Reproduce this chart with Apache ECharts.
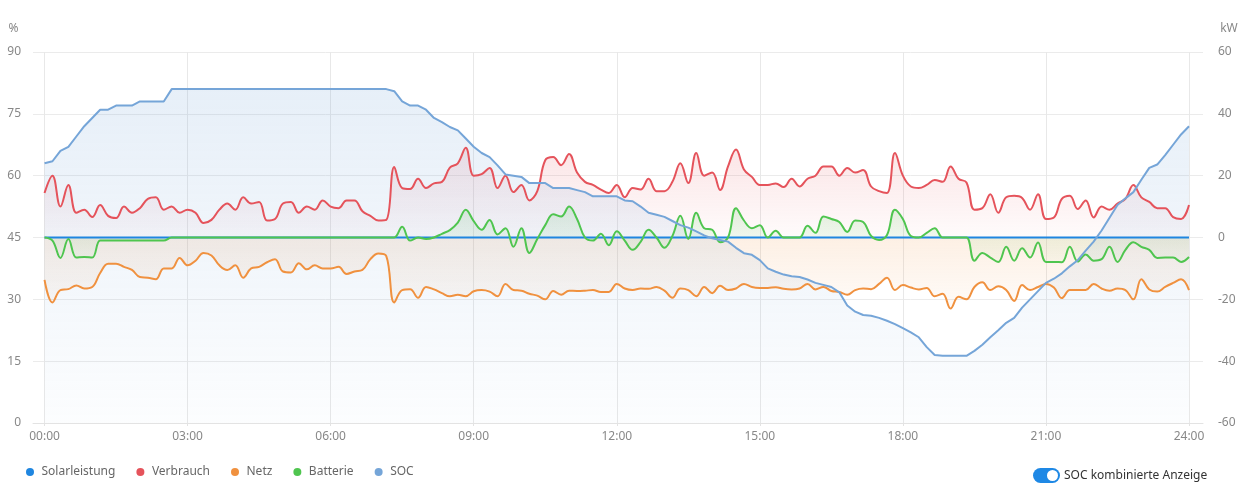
<!DOCTYPE html>
<html>
<head>
<meta charset="UTF-8">
<title>SOC Tagesverlauf</title>
<script src="https://cdn.jsdelivr.net/npm/echarts@6/dist/echarts.min.js"></script>
<style>
  html, body { margin: 0; padding: 0; background: #fff; }
  #main { width: 1241px; height: 485px; }
</style>
</head>
<body>
<div id="main"></div>
<script>
// Messwerte alle 10 Minuten, 00:00 .. 24:00
var stepMin = 10;
var xTicks = [0, 180, 360, 540, 720, 900, 1080, 1260, 1440];
var seriesNames = ['Solarleistung', 'Verbrauch', 'Netz', 'Batterie', 'SOC'];

// kW
var solar = [
  0,0,0,0,0,0,0,0,0,0, 0,0,0,0,0,0,0,0,0,0, 0,0,0,0,0,0,0,0,0,0,
  0,0,0,0,0,0,0,0,0,0, 0,0,0,0,0,0,0,0,0,0, 0,0,0,0,0,0,0,0,0,0,
  0,0,0,0,0,0,0,0,0,0, 0,0,0,0,0,0,0,0,0,0, 0,0,0,0,0,0,0,0,0,0,
  0,0,0,0,0,0,0,0,0,0, 0,0,0,0,0,0,0,0,0,0, 0,0,0,0,0,0,0,0,0,0,
  0,0,0,0,0,0,0,0,0,0, 0,0,0,0,0,0,0,0,0,0, 0,0,0,0,0
];
var verbrauch = [
  14.4,20,10,17,8,9,6.6,10.5,7,6.3,
  10,8,9.5,12.5,13,9,10,8,9,8,
  4.7,5.7,9,11,9,13,11,11.5,5.5,6,
  11,11.5,8,10,9,12,10,9.5,12,12,
  8.5,7,5.5,5.7,22.8,16,15.7,19,16,17.5,
  18,22.6,24,29,20,20.5,22.5,16,20,14.7,
  17,12,15,25,26,23.4,27,21,18,17,
  15.5,14.4,17,13,16,15.5,19,15,15,18,
  24,17.6,27.3,20,21,15.4,23,28.5,22,19.6,
  17,17,17.5,16.3,19,16.5,19,20,23,23,
  20,22.5,21,21.8,16.5,15,14.4,27.3,20,16.5,
  16,17,18.6,18,23,19,17.8,9,9.5,14,
  8,13,13.5,12.8,9,14,6,6.5,12.5,13.5,
  9.2,12,6.5,10,9,11,12.5,17,13,11.5,
  9.5,9.5,6.6,6,10.5
];
var netz = [
  -13.7,-21,-17,-16.7,-15.5,-16.5,-16,-11.5,-8.5,-8.5,
  -9.5,-10.5,-12.8,-13,-13.5,-10,-10,-6.6,-9,-7.5,
  -5,-5.8,-9,-10.5,-9,-13,-10,-9.5,-8,-7,
  -11,-11.3,-8.3,-10.3,-9,-10,-10,-9.5,-11.8,-11,
  -10.5,-7,-5.2,-6,-21,-17,-16.7,-19.5,-16,-16.8,
  -18,-19,-18.5,-19,-17.4,-17,-17.5,-19,-15,-17,
  -17.2,-18.2,-18.8,-20,-17.3,-18.5,-17.2,-17.3,-17.2,-17,
  -17.6,-17.6,-15,-16.5,-17,-16.5,-16.6,-16,-17.2,-19.5,
  -16.5,-17,-19,-16,-18,-15.6,-17,-16.5,-15,-16,
  -16.3,-16.3,-16.1,-16.6,-16.8,-16.5,-15,-16.8,-16,-17.3,
  -17.6,-18.5,-17,-16.5,-16.7,-15,-13,-17,-15.4,-16.2,
  -16.8,-16.3,-19,-18.2,-23,-19.2,-20,-16,-14.5,-17,
  -15.8,-17,-20.5,-15.4,-17,-16,-15,-16.2,-19.6,-17,
  -17,-17,-15,-16.5,-17.2,-16.5,-17,-20,-13.5,-16.8,
  -17.5,-16,-14.7,-13.5,-17
];
var batterie = [
  0,-1,-6.6,-0.5,-6.5,-6.3,-6.5,-1,-1,-1,
  -1,-1,-1,-1,-1,-1,0,0,0,0,
  0,0,0,0,0,0,0,0,0,0,
  0,0,0,0,0,0,0,0,0,0,
  0,0,0,0,0,3.5,-1,0,-0.5,0,
  1.2,2.4,4.8,9,5.3,2.5,5.7,1,3,-3,
  3,-5,-0.5,4,7.5,6.8,10,6,0,-1,
  1.2,-2.5,2,-1,-4,-1.4,2.5,0,-3.3,0.5,
  7,-0.5,8,3,2.5,-1.5,0,9.5,5.5,3,
  4,0,2.2,0,0,0,3.8,1.5,6.8,6,
  5,1.8,5.5,5,0.5,-0.8,0.8,9,6,0.5,
  0,1.5,3,0,0,0,0,-7.5,-5,-6.5,
  -7.9,-3,-7.5,-3.5,-6.5,-1.6,-7.9,-7.9,-8,-3,
  -7.8,-5.5,-7.5,-7,-3,-7.9,-4,-1.5,-3,-4,
  -6.6,-6.5,-6.5,-7.9,-6.3
];
// %
var soc = [
  63,63.5,66,67,69.5,72,74,76,76,77,
  77,77,78,78,78,78,81,81,81,81,
  81,81,81,81,81,81,81,81,81,81,
  81,81,81,81,81,81,81,81,81,81,
  81,81,81,81,80.5,78,77,77,76,74,
  73,71.8,71,69,67,65.5,64.5,62.5,60.3,60,
  59.7,58.2,58.2,58.2,57,57,57,56.5,56,55,
  55,55,55,54,53.8,52.5,51,50.5,50,49,
  48,47.4,46.5,45.5,44.8,44.4,44,42.5,41.2,40.8,
  39.5,37.5,36.7,36,35.6,35.4,34.8,34,33.5,33,
  31.7,28.5,27,26.2,26,25.5,24.8,24,23,22,
  20.8,18.4,16.5,16.3,16.3,16.3,16.3,17.5,19,20.8,
  22.5,24.3,25.5,28,30,32,34,35,36.3,38,
  39.5,41.8,44,46.7,49.8,52.9,54.5,56,59,61.9,
  62.7,65,67.5,70,72
];

var colors = ['#1f86e0', '#e5535b', '#f0913f', '#4fc54f', '#75a5d8'];

function pairs(arr) {
  return arr.map(function (v, i) { return [i * stepMin, v]; });
}
function hhmm(v) {
  var h = Math.floor(v / 60), m = v % 60;
  return (h < 10 ? '0' : '') + h + ':' + (m < 10 ? '0' : '') + m;
}
function fade(rgb, a1, a2) {
  return {
    type: 'linear', x: 0, y: 0, x2: 0, y2: 1,
    colorStops: [
      { offset: 0, color: 'rgba(' + rgb + ',' + a1 + ')' },
      { offset: 1, color: 'rgba(' + rgb + ',' + a2 + ')' }
    ]
  };
}

var myChart = echarts.init(document.getElementById('main'));

var option = {
  animation: false,
  color: colors,
  textStyle: { fontFamily: 'Noto Sans, sans-serif' },
  grid: { left: 33, right: 38, top: 52, bottom: 62 },
  legend: {
    left: 21, top: 461,
    icon: 'circle', itemWidth: 13, itemHeight: 8, itemGap: 21,
    textStyle: { color: '#666', fontSize: 12 },
    data: seriesNames
  },
  xAxis: {
    type: 'value',
    min: -14.5,
    max: 1457.6,
    axisLine: { lineStyle: { color: '#e3e3e3' } },
    axisTick: { show: true, customValues: xTicks, length: 3, lineStyle: { color: '#e3e3e3' } },
    axisLabel: { customValues: xTicks, formatter: hhmm, color: '#888', fontSize: 12, margin: 8 },
    splitLine: { show: true, lineStyle: { color: '#e8e8e8' } }
  },
  yAxis: [
    {
      type: 'value', min: 0, max: 90, interval: 15,
      name: '%', nameGap: 17,
      nameTextStyle: { color: '#888', fontSize: 12, padding: [0, 62, 0, 0] },
      axisLine: { show: false }, axisTick: { show: false },
      axisLabel: { color: '#888', fontSize: 12, margin: 12 },
      splitLine: { lineStyle: { color: '#ebebeb' } }
    },
    {
      type: 'value', min: -60, max: 60, interval: 20,
      name: 'kW', nameGap: 17,
      nameTextStyle: { color: '#888', fontSize: 12, padding: [0, 0, 0, 52] },
      axisLine: { show: false }, axisTick: { show: false },
      axisLabel: { color: '#888', fontSize: 12, margin: 15 },
      splitLine: { show: false }
    }
  ],
  series: [
    {
      name: 'Solarleistung', type: 'line', yAxisIndex: 1,
      data: pairs(solar), showSymbol: false,
      lineStyle: { width: 2, color: colors[0] }
    },
    {
      name: 'Verbrauch', type: 'line', yAxisIndex: 1, smooth: 0.4,
      data: pairs(verbrauch), showSymbol: false,
      lineStyle: { width: 2, color: colors[1] },
      areaStyle: { color: fade('229,83,91', 0.22, 0.03) }
    },
    {
      name: 'Netz', type: 'line', yAxisIndex: 1, smooth: 0.4,
      data: pairs(netz), showSymbol: false,
      lineStyle: { width: 2, color: colors[2] },
      areaStyle: { color: fade('240,145,63', 0.2, 0.05) }
    },
    {
      name: 'Batterie', type: 'line', yAxisIndex: 1, smooth: 0.4,
      data: pairs(batterie), showSymbol: false,
      lineStyle: { width: 2, color: colors[3] },
      areaStyle: { color: fade('79,197,79', 0.22, 0.04) }
    },
    {
      name: 'SOC', type: 'line', yAxisIndex: 0,
      data: pairs(soc), showSymbol: false,
      lineStyle: { width: 2, color: colors[4] },
      areaStyle: { color: fade('117,165,216', 0.25, 0.03) }
    }
  ],
  graphic: [
    {
      type: 'group', left: 1033, top: 468,
      children: [
        { type: 'rect', shape: { x: 0, y: 0, width: 27, height: 15, r: 7.5 }, style: { fill: '#1e88e5' } },
        { type: 'circle', shape: { cx: 19.5, cy: 7.5, r: 5.5 }, style: { fill: '#fff' } },
        { type: 'text', x: 31, y: 7.5, style: { text: 'SOC kombinierte Anzeige', fill: '#333', fontSize: 12, fontFamily: 'Noto Sans, sans-serif', verticalAlign: 'middle' } }
      ]
    }
  ]
};

myChart.setOption(option);
</script>
</body>
</html>
